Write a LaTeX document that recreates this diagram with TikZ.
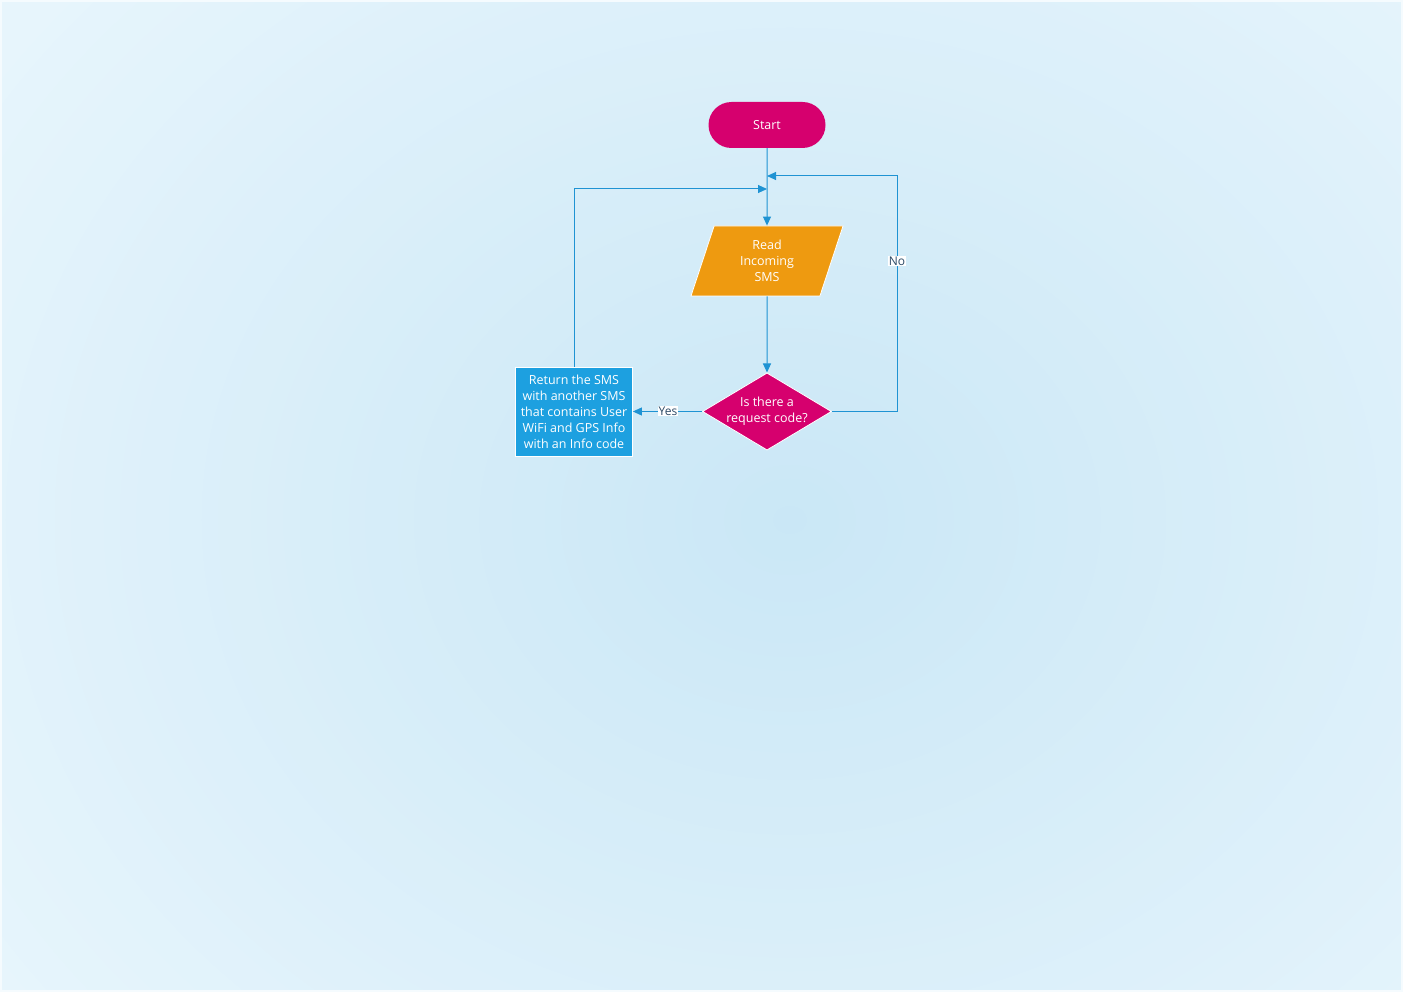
\documentclass[tikz,border=0pt]{standalone}
\usepackage{fontspec}
\setmainfont{Open Sans}
\usetikzlibrary{arrows.meta,shapes.geometric,shapes.misc}
\definecolor{bgin}{HTML}{CAE7F6}
\definecolor{bgout}{HTML}{E7F5FC}
\definecolor{magenta1}{HTML}{D6006E}
\definecolor{orange1}{HTML}{EE9A10}
\definecolor{blue1}{HTML}{1DA0E0}
\definecolor{conn}{HTML}{1F93D3}
\definecolor{lbl}{HTML}{2D4A66}
\tikzset{
  x=1pt,y=-1pt,
  every node/.style={font=\fontsize{12.5}{16}\selectfont, text=white, align=center, inner sep=0pt},
  term/.style={rounded rectangle, fill=magenta1, minimum width=117pt, minimum height=46pt},
  io/.style={trapezium, trapezium left angle=61, trapezium right angle=119, fill=orange1, draw=white, line width=0.8pt, minimum width=152pt, minimum height=70pt, trapezium stretches body},
  dec/.style={diamond, fill=magenta1, draw=white, line width=0.8pt, minimum width=125pt, minimum height=75pt, aspect=1.67},
  proc/.style={rectangle, fill=blue1, draw=white, line width=0.8pt, minimum width=117pt, minimum height=89pt},
  conline/.style={draw=conn, line width=1pt, -{Triangle[length=9pt,width=8pt]}},
  lab/.style={fill=white, text=lbl, inner sep=1pt, font=\fontsize{12}{13}\selectfont}
}
\begin{document}
\begin{tikzpicture}
\useasboundingbox (0,0) rectangle (1403,992);
\begin{scope}
\clip (0,0) rectangle (1403,992);
\fill[bgout] (0,0) rectangle (1403,992);
\foreach \i in {0,...,59}{
  \pgfmathsetmacro\s{1-\i/60}
  \pgfmathsetmacro\p{100*(1-\s)}
  \fill[bgin!\p!bgout] (790,520) ellipse ({980*\s} and {820*\s});
}
\end{scope}
\draw[color=white!60!bgout, line width=2pt] (1,1) rectangle (1402,991);

\node[term] (start) at (767,125) {Start};
\node[io] (read) at (767,261) {Read\\Incoming\\SMS};
\node[dec] (dec) at (767,411.5) {Is there a\\request code?};
\node[proc] (ret) at (574,411.5) {Return the SMS\\with another SMS\\that contains User\\WiFi and GPS Info\\with an Info code};

\coordinate (j1) at (767,176);
\coordinate (j2) at (767,189);
\coordinate (noc) at (897,411.5);
\coordinate (noc2) at (897,176);
\coordinate (rc) at (574,189);

\draw[conline] (start.south) -- (read.north);
\draw[conline] (read.south) -- (dec.north);
\draw[conline] (dec.east) -- (noc) -- (noc2) -- (j1);
\draw[conline] (dec.west) -- (ret.east);
\draw[conline] (ret.north) -- (rc) -- (j2);

\node[lab] (no) at (897,261) {No};
\node[lab] (yes) at (668,411) {Yes};
\end{tikzpicture}
\end{document}
